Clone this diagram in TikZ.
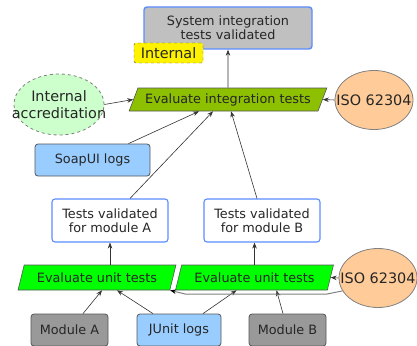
\documentclass[tikz,border=0pt]{standalone}
\usepackage{fontspec}
\setmainfont{DejaVu Sans}
\usepackage{xcolor}
\usepackage{tikz}
\usetikzlibrary{arrows.meta, shapes.geometric, positioning}
\definecolor{resultblue}{HTML}{5B8CFF}
\definecolor{sysgray}{HTML}{C0C0C0}
\definecolor{logblue}{HTML}{99CCFF}
\definecolor{unitgreen}{HTML}{00FF00}
\definecolor{integgreen}{HTML}{8CC000}
\definecolor{accrgreen}{HTML}{CCFFCC}
\definecolor{isopeach}{HTML}{FFCC99}
\definecolor{modgray}{HTML}{999999}
\definecolor{edgegray}{HTML}{555555}

\begin{document}
\begin{tikzpicture}[x=1pt, y=-1pt,
        every node/.style={inner sep=0pt,
        align=center,
        text=black!85,
        font=\fontsize{12.8}{14}\selectfont},
        result/.style={draw=resultblue, line width=1.1pt, rounded corners=3pt,
        minimum width=116pt, minimum height=43pt, fill=white},
        source/.style={draw=edgegray, line width=0.8pt, rounded corners=3pt,
        minimum height=32pt},
        evaluate/.style={trapezium, trapezium left angle=63, trapezium right angle=117,
        trapezium stretches=true, draw=edgegray, line width=0.6pt,
        minimum height=25pt, minimum width=158pt, fill=unitgreen},
        standard/.style={ellipse, draw=gray, line width=0.8pt, fill=isopeach,
        minimum width=78pt, minimum height=59pt,
        font=\fontsize{14.4}{16.5}\selectfont},
        >={Stealth[length=6pt, width=4.5pt]}]
        \useasboundingbox (0,0) rectangle (417,345);
        \clip (0,0) rectangle (417,345);
        % integration level
        \node[result, fill=sysgray, line width=1.4pt, minimum width=168pt, minimum height=42pt] (sysval) at (228,28) {System integration\\tests validated};
        \node[draw=edgegray, dashed, fill=yellow, rounded corners=2pt, minimum width=69pt, minimum height=20pt, font=\fontsize{14.4}{16}\selectfont] (internal) at (168.5,53) {Internal};
        \node[evaluate, fill=integgreen, trapezium left angle=57, trapezium right angle=123, minimum width=198pt, minimum height=23pt] (evalint) at (228,99.5) {Evaluate integration tests};
        \node[standard, fill=accrgreen, dashed, minimum width=90pt, minimum height=61pt] (accred) at (59,104.5) {\makebox[0pt]{Internal}\\\makebox[0pt]{accreditation}};
        \node[standard] (isotop) at (374,100) {\makebox[0pt]{ISO 62304}};
        \node[source, fill=logblue, minimum width=115pt] (soapui) at (92.5,160) {SoapUI logs};
        % unit level
        \node[result] (validA) at (110,220.5) {Tests validated\\for module A};
        \node[result] (validB) at (262,220.5) {Tests validated\\for module B};
        \node[evaluate] (unitA) at (97,277.5) {Evaluate unit tests};
        \node[evaluate] (unitB) at (254.5,277.5) {Evaluate unit tests};
        \node[standard] (isobot) at (378,278) {\makebox[0pt]{ISO 62304}};
        \node[source, fill=modgray, minimum width=77pt] (modA) at (69.5,330) {Module A};
        \node[source, fill=logblue, minimum width=84pt] (junit) at (179,330) {JUnit logs};
        \node[source, fill=modgray, minimum width=77pt] (modB) at (287.5,330) {Module B};
        % flows
        \begin{scope}[draw=black!80, line width=0.6pt]
        \draw[->] (evalint.north) -- (sysval.south);
        \draw[->] (accred.east) -- (evalint.west);
        \draw[->] (isotop.west) -- (evalint.east);
        \draw[->] ([xshift=36pt]soapui.north) -- ([xshift=-29pt]evalint.south);
        \draw[->] ([xshift=20pt]validA.north) -- ([xshift=-15pt]evalint.south);
        \draw[->] ([xshift=-5pt]validB.north) -- ([xshift=3pt]evalint.south);
        \draw[->] (validA.south |- unitA.north) -- (validA.south);
        \draw[->] (unitB.north) -- (unitB.north |- validB.south);
        \draw[->] (isobot.west) -- (unitB.east);
        \draw[->] ([xshift=13.5pt]modA.north) -- ([xshift=5pt]unitA.south);
        \draw[->] ([xshift=-26pt]junit.north) -- ([xshift=20pt]unitA.south);
        \draw[->] ([xshift=24pt]junit.north) -- ([xshift=-18pt]unitB.south);
        \draw[->] ([xshift=-4.5pt]modB.north) -- ([xshift=22pt]unitB.south);
        \end{scope}
        \draw[gray, line width=1pt, -{Stealth[length=6pt, width=4.5pt, color=black]}] (isobot.200) -- (327,294) -- (185,294) -- (unitA.bottom right corner);
    \end{tikzpicture}
\end{document}
